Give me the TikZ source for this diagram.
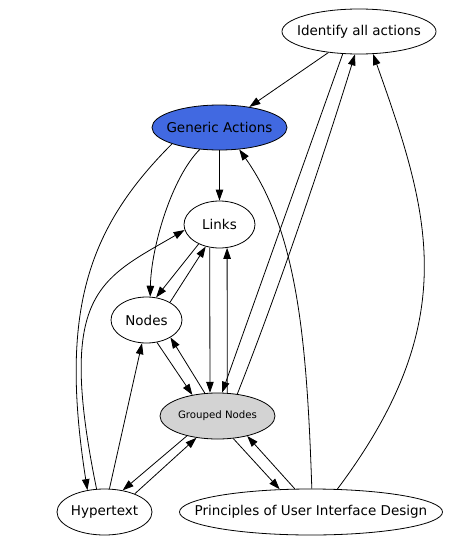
\documentclass[tikz,border=0pt]{standalone}
\usepackage{fontspec}
\setmainfont{DejaVu Sans}
\usetikzlibrary{shapes.geometric,arrows.meta}
\definecolor{actionblue}{HTML}{4169E1}
\definecolor{groupgrey}{HTML}{D3D3D3}
\newcommand{\lbl}[1]{\makebox[0pt]{#1}}

\begin{document}
\begin{tikzpicture}[
x=1pt, y=-1pt,
every node/.style={draw, ellipse, line width=0.8pt, inner sep=0pt, minimum height=46pt, font=\fontsize{13.5}{16}\selectfont},
flow/.style={draw, line width=0.8pt, -{Triangle[length=11pt,width=7.5pt]}}
]
\useasboundingbox (0,0) rectangle (452,543);

\node[minimum width=154pt, minimum height=45pt] (identify) at (359,31.5) {\lbl{Identify all actions}};
\node[fill=actionblue, minimum width=135pt, minimum height=45pt] (generic) at (219.5,127.5) {\lbl{Generic Actions}};
\node[minimum width=71pt, minimum height=47pt] (links) at (219.5,224.5) {\lbl{Links}};
\node[minimum width=71pt] (nodes) at (146.5,320) {\lbl{Nodes}};
\node[fill=groupgrey, minimum width=115pt, font=\fontsize{10.2}{12}\selectfont] (grouped) at (217.5,416) {\lbl{Grouped Nodes}};
\node[minimum width=95pt] (hypertext) at (104.5,512) {\lbl{Hypertext}};
\node[minimum width=263pt] (principles) at (311,512) {\lbl{Principles of User Interface Design}};

\path[flow] (identify) -- (generic);
\path[flow] (generic) -- (links);
\path[flow] (generic.228) .. controls +(-28,28) and +(1,-50) .. (nodes.81);
\path[flow] (generic.199) .. controls +(-85,85) and +(-28,-178) .. (hypertext.128);
\path[flow] (principles.88) .. controls +(-5,-150) and +(58,82) .. (generic.312);
\path[flow] (hypertext.109) .. controls +(-40,-196) and +(-86,50) .. (links.189);
\path[flow] (links.223) -- (nodes.67);
\path[flow] (nodes.37) -- (links.238);
\path[flow] (links.247) -- (grouped.108);
\path[flow] (grouped.67) -- (links.288);
\path[flow] (nodes.295) -- (grouped.140);
\path[flow] (grouped.119) -- (nodes.324);
\path[flow] (identify.234) -- (grouped.79);
\path[flow] (grouped.48) .. controls +(40,-101) and +(-34,110) .. (identify.260);
\path[flow] (principles.41) .. controls +(126,-168) and +(57,160) .. (identify.302);
\path[flow] (grouped.305) -- (principles.144);
\path[flow] (principles.125) -- (grouped.326);
\path[flow] (grouped.213) -- (hypertext.50);
\path[flow] (hypertext.31) -- (grouped.226);
\path[flow] (hypertext.78) -- (nodes.259);

\end{tikzpicture}
\end{document}
